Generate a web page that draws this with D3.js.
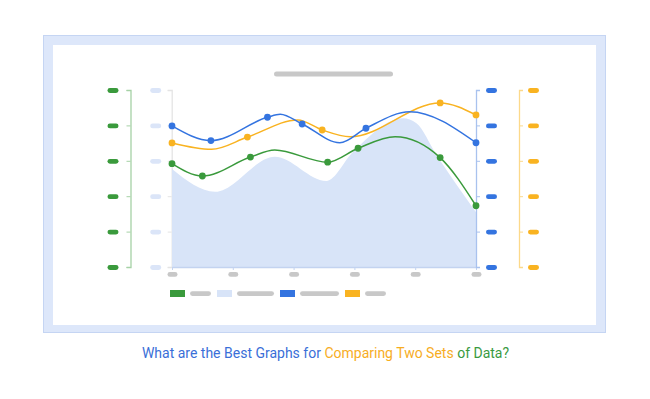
<!DOCTYPE html>
<html>
<head>
<meta charset="utf-8">
<script src="https://cdn.jsdelivr.net/npm/d3@7"></script>
<style>
  body { margin: 0; background: #fff; }
  svg { display: block; font-family: Roboto, "Noto Sans", sans-serif; }
  .domain { stroke-width: 1.3; }
</style>
</head>
<body>
<div id="chart"></div>
<script>
// ticks for every axis (labels are drawn as blank pills)
const yTicks = [0, 20, 40, 60, 80, 100];
const xTicks = [0, 10, 20, 30, 40, 50];

// area series (light blue)
const areaX = [0, 7.1, 16.9, 25.4, 29.8, 38.0, 40.2, 43.5, 50];
const areaY = [55.4, 42.5, 62.3, 48.6, 65.1, 84.0, 81.2, 63.3, 31];

// green series
const greenX = [0, 5.0, 12.9, 16.9, 25.6, 30.6, 36.7, 44.1, 50];
const greenY = [58.4, 51.4, 62.1, 66.1, 59.2, 67.1, 73.6, 61.8, 34.6];
const greenDots = [0, 1, 2, 4, 5, 7, 8];

// blue series
const blueX = [0, 6.4, 15.7, 17.8, 21.4, 27.6, 31.9, 39.1, 50];
const blueY = [79.7, 71.4, 84.6, 86.3, 80.8, 70.2, 78.4, 87.7, 70.2];
const blueDots = [0, 1, 2, 4, 6, 8];

// yellow series
const yellowX = [0, 6.5, 12.4, 20.7, 24.7, 29.3, 44.1, 50];
const yellowY = [70.1, 66.5, 73.4, 83.1, 77.4, 73.6, 92.7, 85.9];
const yellowDots = [0, 2, 4, 6, 7];

const caption = [
  { text: "What are the Best Graphs for ", color: "#3a6fd8" },
  { text: "Comparing Two Sets ", color: "#f7ad1f" },
  { text: "of Data?", color: "#3a9a3f" }
];

const GREEN = "#3a9a3c", BLUE = "#3474e0", YELLOW = "#f9b321",
      LIGHT = "#d8e4f8", GRAY = "#c8c8c8";

const W = 650, H = 399;
const svg = d3.select("#chart").append("svg")
  .attr("width", W).attr("height", H);

// frame
svg.append("rect")
  .attr("x", 43.5).attr("y", 35.5).attr("width", 562).attr("height", 297)
  .attr("fill", "#dde7fa").attr("stroke", "#c5d5f3");
svg.append("rect")
  .attr("x", 53).attr("y", 45).attr("width", 543).attr("height", 280)
  .attr("fill", "#fff");

// title placeholder
svg.append("rect")
  .attr("x", 274).attr("y", 71.5).attr("width", 119).attr("height", 5)
  .attr("rx", 2.5).attr("fill", GRAY);

const x = d3.scaleLinear().domain([0, 50]).range([172, 476]);
const y = d3.scaleLinear().domain([0, 100]).range([267, 90]);

function pillAxis(axis, pos, lineColor, pillColor, dx) {
  const g = svg.append("g")
    .attr("transform", "translate(" + pos + ",0)")
    .call(axis.tickValues(yTicks).tickFormat("").tickSize(4).tickSizeOuter(4));
  g.select(".domain").attr("stroke", lineColor);
  g.selectAll(".tick line").attr("stroke", lineColor);
  g.selectAll(".tick").append("rect")
    .attr("x", dx - 5.5).attr("y", -2.4)
    .attr("width", 11).attr("height", 4.8).attr("rx", 2.4)
    .attr("fill", pillColor);
  return g;
}

pillAxis(d3.axisLeft(y), 130.5, "#a6d2a6", GREEN, -17.5);
pillAxis(d3.axisLeft(y), 171.7, "#e4e4e4", "#dbe5f8", -16);

// area
const area = d3.area()
  .x((d, i) => x(areaX[i]))
  .y0(y(0))
  .y1(d => y(d))
  .curve(d3.curveMonotoneX);
svg.append("path")
  .datum(areaY)
  .attr("d", area)
  .attr("fill", LIGHT);

// x axis
const xg = svg.append("g")
  .attr("transform", "translate(0," + y(0) + ")")
  .call(d3.axisBottom(x).tickValues(xTicks).tickFormat("").tickSize(3).tickSizeOuter(0));
xg.select(".domain").attr("stroke", "#c3d3f0");
xg.selectAll(".tick line").attr("stroke", "#c3d3f0");
xg.selectAll(".tick").append("rect")
  .attr("x", -5).attr("y", 5)
  .attr("width", 10).attr("height", 4.8).attr("rx", 2.4)
  .attr("fill", GRAY);

pillAxis(d3.axisRight(y), 476, "#a9c2ee", BLUE, 15.5);
pillAxis(d3.axisRight(y), 519, "#fcd98a", YELLOW, 14.5);

// lines + dots
function series(xs, ys, dots, color) {
  const line = d3.line()
    .x((d, i) => x(xs[i]))
    .y(d => y(d))
    .curve(d3.curveMonotoneX);
  svg.append("path")
    .datum(ys)
    .attr("d", line)
    .attr("fill", "none")
    .attr("stroke", color)
    .attr("stroke-width", 1.5);
  svg.append("g").selectAll("circle")
    .data(dots)
    .join("circle")
    .attr("cx", i => x(xs[i]))
    .attr("cy", i => y(ys[i]))
    .attr("r", 3.4)
    .attr("fill", color);
}

series(greenX, greenY, greenDots, GREEN);
series(yellowX, yellowY, yellowDots, YELLOW);
series(blueX, blueY, blueDots, BLUE);

// legend
const legend = [
  { color: GREEN, w: 21 },
  { color: LIGHT, w: 37 },
  { color: BLUE, w: 39 },
  { color: YELLOW, w: 21 }
];
let lx = 170;
legend.forEach(d => {
  svg.append("rect").attr("x", lx).attr("y", 290).attr("width", 15).attr("height", 7)
    .attr("fill", d.color);
  svg.append("rect").attr("x", lx + 20).attr("y", 291.2).attr("width", d.w).attr("height", 4.8)
    .attr("rx", 2.4).attr("fill", GRAY);
  lx += 20 + d.w + 6;
});

// caption
svg.append("text")
  .attr("x", 325.5).attr("y", 358)
  .attr("text-anchor", "middle")
  .attr("font-size", 14)
  .selectAll("tspan")
  .data(caption)
  .join("tspan")
  .attr("fill", d => d.color)
  .text(d => d.text);
</script>
</body>
</html>
